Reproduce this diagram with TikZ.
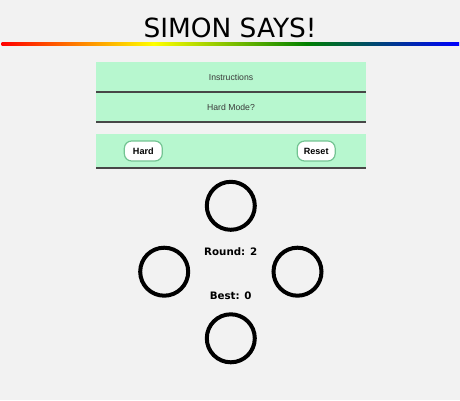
\documentclass[tikz,border=0pt]{standalone}
\usepackage{fontspec}
\setmainfont{Liberation Sans}
\newfontfamily\vfont{DejaVu Sans}
\definecolor{pagegray}{HTML}{F2F2F2}
\definecolor{panelgreen}{HTML}{B7F7CF}
\definecolor{rulegray}{HTML}{474747}
\definecolor{btnedge}{HTML}{74C493}
\definecolor{webgreen}{HTML}{008000}
\definecolor{labelgray}{HTML}{3A3A3A}
\tikzset{every picture/.style={line width=0.75pt}}
\tikzset{
  panel/.style={fill=panelgreen, draw=none},
  panelrule/.style={draw=rulegray, line width=1.5pt},
  btn/.style={draw=btnedge, fill=white, rounded corners=5.5pt, line width=0.9pt,
    minimum width=28.5pt, minimum height=15pt, inner sep=0pt,
    font=\fontsize{6.8pt}{7pt}\selectfont\bfseries},
  ring/.style={draw=black, line width=3pt},
  score/.style={inner sep=0.75pt, anchor=base, font=\vfont\fontsize{7.7pt}{9pt}\selectfont\bfseries}
}

\begin{document}
\begin{tikzpicture}[x=0.75pt,y=0.75pt,yscale=-1,xscale=1]
%set diagram left start at 0, and has height of 400
\fill[pagegray] (0,0) rectangle (460,400);
\useasboundingbox (0,0) rectangle (460,400);

% Text Node
\draw (230,37) node [anchor=base][inner sep=0.75pt]  [font=\vfont\fontsize{19.8pt}{21pt}\selectfont]  (title) {SIMON SAYS!};
%Rainbow rule
\shade[left color=red, right color=yellow] (1.5,42.4) rectangle (154,45.6);
\shade[left color=yellow, right color=webgreen] (153.5,42.4) rectangle (307,45.6);
\shade[left color=webgreen, right color=blue] (306.5,42.4) rectangle (459,45.6);

%Shape: Rectangle
\draw [panel] (96,62) rectangle (366,92) ;
%Straight Lines
\draw [panelrule] (96,92) -- (366,92) ;
%Shape: Rectangle
\draw [panel] (96,93) rectangle (366,122) ;
%Straight Lines
\draw [panelrule] (96,122) -- (366,122) ;
%Shape: Rectangle
\draw [panel] (96,134) rectangle (366,167.5) ;
%Straight Lines
\draw [panelrule] (96,167.5) -- (366,167.5) ;

% Text Node
\draw (231,80.3) node [anchor=base][inner sep=0.75pt]  [font=\fontsize{6.5pt}{7pt}\selectfont, text=labelgray]  (instr) {Instructions};
% Text Node
\draw (231,110.7) node [anchor=base][inner sep=0.75pt]  [font=\fontsize{6.5pt}{7pt}\selectfont, text=labelgray]  (mode) {Hard Mode?};
% Buttons
\draw (143.3,151) node [btn]  (hard) {Hard};
\draw (316.2,151) node [btn]  (reset) {Reset};

%Shape: Circle
\draw [ring] (230.8,205.8) circle (24) ;
%Shape: Circle
\draw [ring] (164.2,271.7) circle (24) ;
%Shape: Circle
\draw [ring] (297.5,271.7) circle (24) ;
%Shape: Circle
\draw [ring] (230.8,338.3) circle (24) ;

% Text Node
\draw (230.7,255.8) node [score]  (round) {Round: 2};
% Text Node
\draw (230.7,299.8) node [score]  (best) {Best: 0};

\end{tikzpicture}
\end{document}
